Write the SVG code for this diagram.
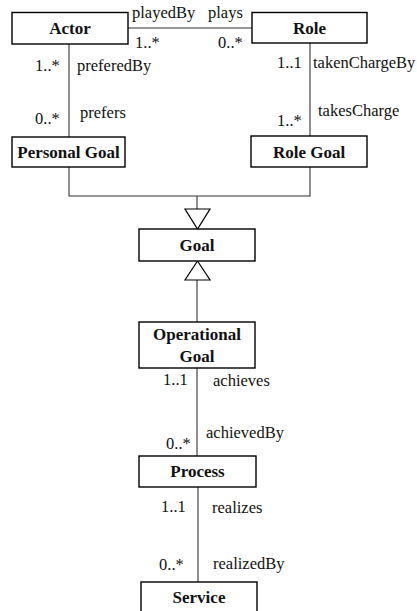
<svg xmlns="http://www.w3.org/2000/svg" width="417" height="611" viewBox="0 0 417 611">
  <style>
    .box { fill: #fff; stroke: #000; stroke-width: 1.4; }
    .title { font-family: 'Liberation Serif', 'Times New Roman', serif; font-weight: bold; font-size: 17px; fill: #111; text-anchor: middle; }
    .lbl { font-family: 'Liberation Serif', 'Times New Roman', serif; font-size: 16.5px; fill: #111; }
    .line { fill: none; stroke: #333; stroke-width: 1.1; }
    .tri { fill: #fff; stroke: #000; stroke-width: 1.2; }
  </style>
  <rect width="417" height="611" fill="#fff"/>

  <!-- connectors: association lines, generalisation triangles and end labels -->
  <g id="connectors">
    <!-- Actor - Role -->
    <line class="line" x1="128" y1="28" x2="252" y2="28"/>
    <!-- Actor - Personal Goal -->
    <line class="line" x1="69" y1="44" x2="69" y2="137"/>
    <!-- Role - Role Goal -->
    <line class="line" x1="310" y1="43" x2="310" y2="136"/>
    <!-- Personal Goal / Role Goal generalise into Goal -->
    <polyline class="line" points="69,167 69,196 310,196 310,167"/>
    <line class="line" x1="197" y1="196" x2="197" y2="209"/>
    <polygon class="tri" points="185,209 210,209 197.5,229"/>
    <!-- Operational Goal generalises Goal -->
    <line class="line" x1="197" y1="280" x2="197" y2="322"/>
    <polygon class="tri" points="185,280 210,280 197.5,261"/>
    <!-- Operational Goal - Process -->
    <line class="line" x1="197" y1="368" x2="197" y2="456"/>
    <!-- Process - Service -->
    <line class="line" x1="198" y1="487" x2="198" y2="582"/>

    <text class="lbl" x="132" y="18">playedBy</text>
    <text class="lbl" x="208" y="18">plays</text>
    <text class="lbl" x="135" y="48">1..*</text>
    <text class="lbl" x="218" y="48">0..*</text>

    <text class="lbl" x="35" y="71">1..*</text>
    <text class="lbl" x="77" y="71">preferedBy</text>
    <text class="lbl" x="80" y="118">prefers</text>
    <text class="lbl" x="35" y="124">0..*</text>

    <text class="lbl" x="277" y="68">1..1</text>
    <text class="lbl" x="313" y="68" font-size="16">takenChargeBy</text>
    <text class="lbl" x="318" y="116">takesCharge</text>
    <text class="lbl" x="277" y="126">1..*</text>

    <text class="lbl" x="163" y="385">1..1</text>
    <text class="lbl" x="213" y="386">achieves</text>
    <text class="lbl" x="206" y="438">achievedBy</text>
    <text class="lbl" x="166" y="449">0..*</text>

    <text class="lbl" x="161" y="512">1..1</text>
    <text class="lbl" x="212" y="513">realizes</text>
    <text class="lbl" x="213" y="569">realizedBy</text>
    <text class="lbl" x="159" y="570">0..*</text>
  </g>

  <!-- class boxes -->
  <g id="actor">
    <rect class="box" x="12" y="12.5" width="116" height="31.5"/>
    <text class="title" x="70" y="34">Actor</text>
  </g>
  <g id="role">
    <rect class="box" x="252" y="12.5" width="115" height="30.5"/>
    <text class="title" x="309.5" y="34">Role</text>
  </g>
  <g id="personal-goal">
    <rect class="box" x="12" y="137" width="113" height="30"/>
    <text class="title" x="68.5" y="158">Personal Goal</text>
  </g>
  <g id="role-goal">
    <rect class="box" x="251" y="136" width="116" height="31"/>
    <text class="title" x="309" y="158">Role Goal</text>
  </g>
  <g id="goal">
    <rect class="box" x="139" y="229" width="116" height="32"/>
    <text class="title" x="197" y="251">Goal</text>
  </g>
  <g id="operational-goal">
    <rect class="box" x="139" y="322" width="116" height="46"/>
    <text class="title" x="197" y="340">Operational</text>
    <text class="title" x="197" y="362">Goal</text>
  </g>
  <g id="process">
    <rect class="box" x="139" y="456" width="117" height="31"/>
    <text class="title" x="197.5" y="477">Process</text>
  </g>
  <g id="service">
    <rect class="box" x="141" y="582" width="116" height="40"/>
    <text class="title" x="199" y="603">Service</text>
  </g>
</svg>
